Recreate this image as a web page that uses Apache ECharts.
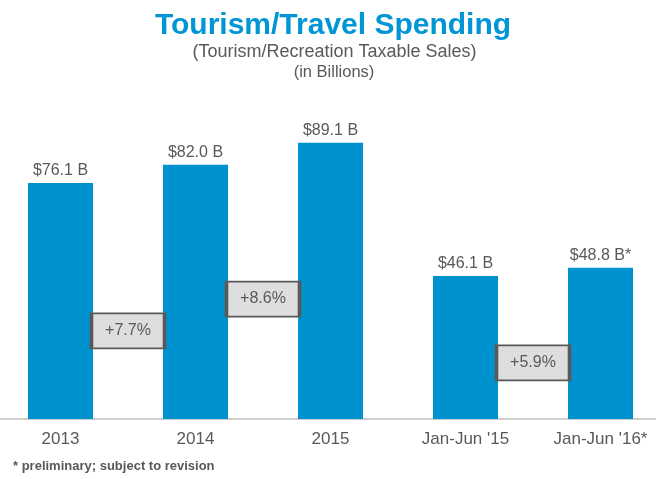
<!DOCTYPE html>
<html>
<head>
<meta charset="utf-8">
<style>
html,body{margin:0;padding:0;background:#fff;}
#chart{width:656px;height:479px;}
</style>
<script src="https://cdn.jsdelivr.net/npm/echarts@6/dist/echarts.min.js"></script>
</head>
<body>
<div id="chart"></div>
<script>
// ---- data ----
var categories = ["2013", "2014", "2015", "Jan-Jun '15", "Jan-Jun '16*"];
var spending = [76.1, 82.0, 89.1, 46.1, 48.8];
var labelNotes = ["", "", "", "", "*"];
var growthLabels = ["+7.7%", "+8.6%", "+5.9%"];
var growthBetween = [0.5, 1.5, 3.5];      // between which categories (category index units)
var growthLevel = [28.4, 38.7, 18.1];     // vertical anchor on the value axis (billions)

var FONT = "'Liberation Sans', Arial, Helvetica, sans-serif";
var GRAY = "#595959";
var BLUE = "#0092CF";

var chart = echarts.init(document.getElementById('chart'), null, {renderer: 'canvas'});

var growthData = growthLabels.map(function (t, i) {
  return {value: [growthBetween[i], growthLevel[i]], name: t};
});

chart.setOption({
  animation: false,
  backgroundColor: '#ffffff',
  textStyle: {fontFamily: FONT},
  graphic: [
    {type: 'text', x: 333, y: 26, style: {text: 'Tourism/Travel Spending', align: 'center', verticalAlign: 'middle',
      font: 'bold 30px ' + FONT, fill: '#0096D6'}},
    {type: 'text', x: 334.5, y: 52, style: {text: '(Tourism/Recreation Taxable Sales)', align: 'center', verticalAlign: 'middle',
      font: '18px ' + FONT, fill: GRAY}},
    {type: 'text', x: 334, y: 72.5, style: {text: '(in Billions)', align: 'center', verticalAlign: 'middle',
      font: '16.5px ' + FONT, fill: GRAY}},
    {type: 'text', x: 13, y: 466.5, style: {text: '* preliminary; subject to revision', align: 'left', verticalAlign: 'middle',
      font: 'bold 13px ' + FONT, fill: GRAY}}
  ],
  grid: [
    {left: 60.5, right: 55.5, top: 109, height: 310, containLabel: false},
    {left: 0, right: 0, top: 109, height: 310, containLabel: false}
  ],
  xAxis: [
    {
      type: 'category',
      gridIndex: 0,
      data: categories,
      boundaryGap: false,
      axisLine: {show: false},
      axisTick: {show: false},
      splitLine: {show: false},
      axisLabel: {color: GRAY, fontSize: 17, margin: 12, fontFamily: FONT, interval: 0}
    },
    {
      type: 'value',
      gridIndex: 0,
      min: 0, max: 4,
      show: false
    },
    {
      type: 'value',
      gridIndex: 1,
      min: 0, max: 1,
      axisLine: {show: true, lineStyle: {color: '#BFBFBF', width: 1.5}},
      axisTick: {show: false},
      axisLabel: {show: false},
      splitLine: {show: false}
    }
  ],
  yAxis: [
    {type: 'value', gridIndex: 0, min: 0, max: 100, show: false, splitLine: {show: false}},
    {type: 'value', gridIndex: 1, min: 0, max: 100, show: false, splitLine: {show: false}}
  ],
  series: [
    {
      type: 'bar',
      xAxisIndex: 0,
      yAxisIndex: 0,
      data: spending,
      barWidth: 65,
      itemStyle: {color: BLUE},
      label: {
        show: true, position: 'top', distance: 4,
        color: GRAY, fontSize: 16, fontFamily: FONT,
        formatter: function (p) { return '$' + p.value.toFixed(1) + ' B' + labelNotes[p.dataIndex]; }
      },
      z: 2
    },
    {
      type: 'scatter',
      xAxisIndex: 1,
      yAxisIndex: 0,
      data: growthData,
      symbol: 'rect',
      symbolSize: [73, 35],
      itemStyle: {color: '#DEDEDE', borderColor: GRAY, borderWidth: 2.5, opacity: 1},
      label: {
        show: true, position: 'inside',
        color: GRAY, fontSize: 16, fontFamily: FONT,
        formatter: function (p) { return p.name; }
      },
      emphasis: {disabled: true},
      z: 5
    }
  ]
});
</script>
</body>
</html>
